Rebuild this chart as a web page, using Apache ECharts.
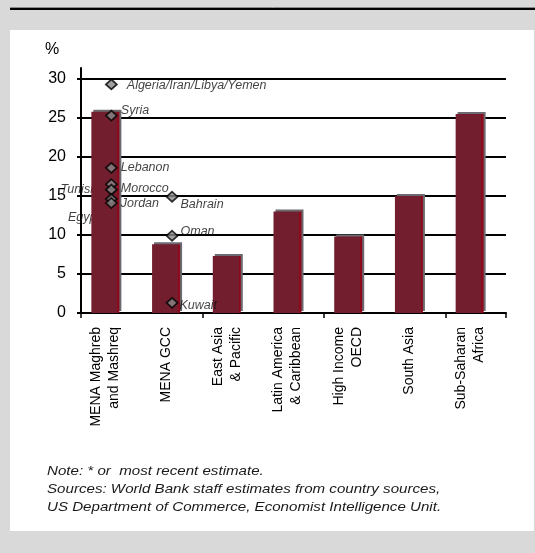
<!DOCTYPE html>
<html><head><meta charset="utf-8">
<script src="https://cdn.jsdelivr.net/npm/echarts@6/dist/echarts.min.js"></script>
<style>html,body{margin:0;padding:0;background:#d9d9d9}#c{width:535px;height:553px}</style>
</head><body><div id="c"></div>
<script>
const categories = ['MENA Maghreb\nand Mashreq','MENA GCC','East Asia\n& Pacific','Latin America\n& Caribbean','High Income\nOECD','South Asia','Sub-Saharan\nAfrica'];
const regionValues = [25.8, 8.8, 7.3, 13.0, 9.8, 15.0, 25.5];
const countryNames = ['Algeria/Iran/Libya/Yemen','Syria','Lebanon','Tunisia','Morocco','Egypt','Jordan','Bahrain','Oman','Kuwait'];
const countryRegion = [0,0,0,0,0,0,0,1,1,1];
const countryValues = [29.3,25.3,18.6,16.5,15.8,14.6,14.1,14.9,9.9,1.3];
const yTicks = [0,5,10,15,20,25,30];
const gridValues = [5,10,15,20,25,30];
const yUnit = '%';
const noteLines = ['Note: * or  most recent estimate.','Sources: World Bank staff estimates from country sources,','US Department of Commerce, Economist Intelligence Unit.'];

const FONT = 'Arial, "Liberation Sans", sans-serif';
// label placement (style only)
const labelStyle = {
  'Algeria/Iran/Libya/Yemen': {position:'right', distance:9, offset:[0,1.5]},
  'Syria': {position:'right', distance:3, offset:[0,-5]},
  'Lebanon': {position:'right', distance:3, offset:[0,0]},
  'Tunisia': {position:'left', distance:6, offset:[0,5]},
  'Morocco': {position:'right', distance:3, offset:[0,-1]},
  'Egypt': {position:'left', distance:6, offset:[0,18]},
  'Jordan': {position:'right', distance:3, offset:[0,1]},
  'Bahrain': {position:'right', distance:2, offset:[0,8]},
  'Oman': {position:'right', distance:2, offset:[0,-4]},
  'Kuwait': {position:'right', distance:1, offset:[0,3]}
};
const hiddenBehindBars = ['Tunisia','Egypt'];
const yMax = 31.4;

const chart = echarts.init(document.getElementById('c'), null, {renderer:'canvas'});
const countryData = countryValues.map((v,i)=>{
  const n = countryNames[i];
  const low = hiddenBehindBars.indexOf(n) >= 0;
  return {name:n, value:[countryRegion[i], v], label: Object.assign({show: !low}, labelStyle[n])};
});
const lowLabelData = countryValues.map((v,i)=>({name: countryNames[i], value:[countryRegion[i], v]}))
  .filter(d=>hiddenBehindBars.indexOf(d.name) >= 0)
  .map(d=>Object.assign(d, {label: Object.assign({show:true}, labelStyle[d.name], {distance: labelStyle[d.name].distance + 5})}));

const pointLabel = {formatter:'{b}', fontStyle:'italic', fontSize:12.5, fontFamily:FONT, color:'#111'};

chart.setOption({
  backgroundColor:'#d9d9d9',
  animation:false,
  graphic:[
    {type:'rect', z:-10, shape:{x:10,y:30,width:524,height:501}, style:{fill:'#ffffff'}},
    {type:'line', z:-10, shape:{x1:10,y1:7.5,x2:535,y2:7.5}, style:{stroke:'#8a8a8a', lineWidth:1}},
    {type:'line', z:-10, shape:{x1:10,y1:9,x2:535,y2:9}, style:{stroke:'#000', lineWidth:2}},
    {type:'text', x:45, y:42, style:{text:yUnit, font:'16px '+FONT, fill:'#000'}},
    {type:'text', x:47, y:462, scaleX:1.12, style:{text:noteLines.join('\n'), font:'italic 13.5px '+FONT, fill:'#1a1a1a', lineHeight:18}}
  ],
  grid:[
    {left:81, right:29, top:68, bottom:240},
    {left:75, right:35, top:68, bottom:240}
  ],
  xAxis:[
    {type:'category', gridIndex:0, data:categories, boundaryGap:true,
     axisLine:{lineStyle:{color:'#000', width:2}},
     axisTick:{show:true, length:5, lineStyle:{color:'#000', width:1.5}},
     axisLabel:{show:false}},
    {type:'category', gridIndex:1, data:categories, boundaryGap:true,
     axisLine:{show:false}, axisTick:{show:false},
     axisLabel:{interval:0, rotate:90, margin:14, fontSize:14, fontFamily:FONT, color:'#000', lineHeight:18}}
  ],
  yAxis:[
    {type:'value', gridIndex:0, min:0, max:yMax,
     axisLine:{show:true, lineStyle:{color:'#000', width:2}},
     axisTick:{show:true, length:4, customValues:yTicks, lineStyle:{color:'#000', width:2}},
     axisLabel:{customValues:yTicks, fontSize:16, fontFamily:FONT, color:'#000', margin:15},
     splitLine:{show:false}},
    {type:'value', gridIndex:1, min:0, max:yMax, show:false, splitLine:{show:false}}
  ],
  series:[
    {type:'bar', xAxisIndex:1, yAxisIndex:1, data:regionValues, barWidth:28, z:2,
     itemStyle:{
       color:new echarts.graphic.LinearGradient(0,0,1,0,[
         {offset:0,color:'#731e2e'},{offset:0.92,color:'#731e2e'},
         {offset:0.92,color:'#8c0a1c'},{offset:1,color:'#8c0a1c'}]),
       shadowColor:'#6a6a70', shadowOffsetX:2, shadowOffsetY:-2, shadowBlur:0}},
    {type:'scatter', xAxisIndex:0, yAxisIndex:0, data:lowLabelData, symbolSize:1, z:1,
     itemStyle:{color:'rgba(0,0,0,0)'},
     label:pointLabel,
     markLine:{z:1, silent:true, symbol:['none','none'], label:{show:false},
       lineStyle:{color:'#000', width:2, type:'solid'},
       data: gridValues.map(v=>({yAxis:v}))}},
    {type:'scatter', xAxisIndex:0, yAxisIndex:0, data:countryData, symbol:'diamond', symbolSize:[11,10], z:3,
     itemStyle:{color:'#8a8a8a', borderColor:'#000', borderWidth:1.8},
     label:pointLabel}
  ]
});
</script></body></html>
